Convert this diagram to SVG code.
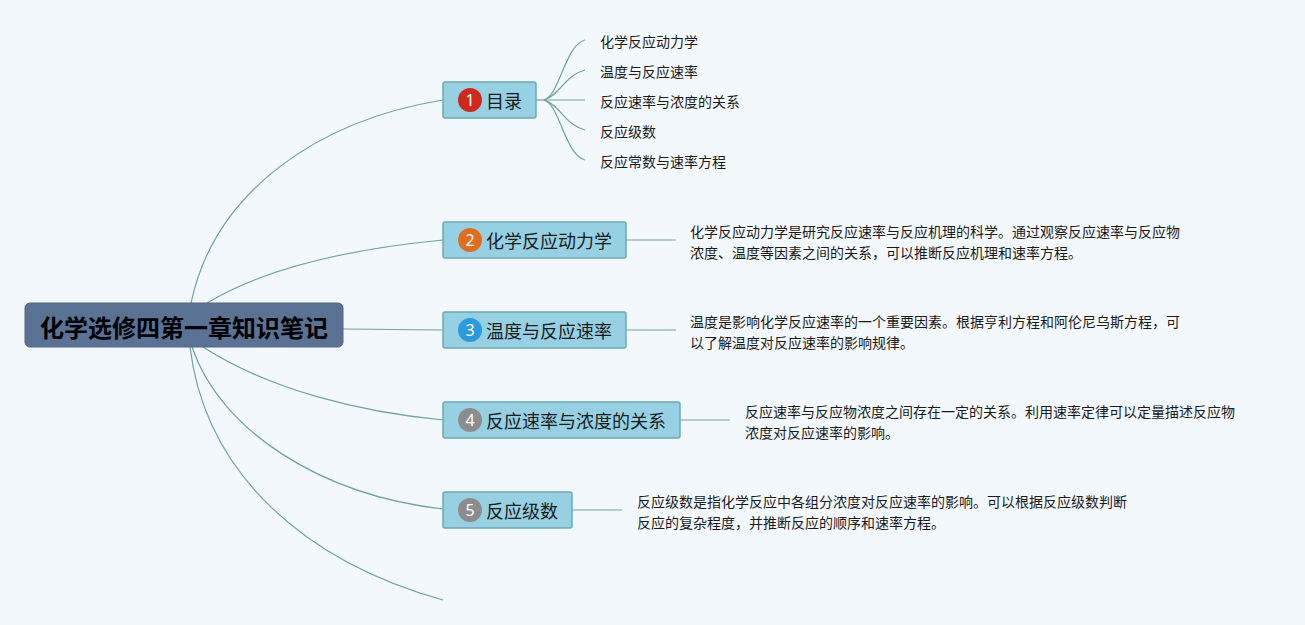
<svg xmlns="http://www.w3.org/2000/svg" width="1305" height="625" viewBox="0 0 1305 625">
<style>
.bg{fill:#f3f8fc}
.edge{fill:none;stroke:#6ea39b;stroke-width:1.2}
.box{fill:#95d1e3;stroke:#6aaab5;stroke-width:1.5}
.lbl{font-family:"Noto Sans CJK SC","Noto Sans",sans-serif;font-size:18px;fill:#1a1a1a;dominant-baseline:central}
.num{font-family:"Noto Sans","Liberation Sans",sans-serif;font-size:16px;fill:#ffffff;text-anchor:middle;dominant-baseline:central}
.txt{font-family:"Noto Sans CJK SC","Noto Sans",sans-serif;font-size:14px;fill:#1a1a1a;dominant-baseline:central}
.root{font-family:"Noto Sans CJK SC","Noto Sans",sans-serif;font-size:24px;font-weight:bold;fill:#000;text-anchor:middle;dominant-baseline:central}
</style>
<rect class="bg" x="0" y="0" width="1305" height="625"/>
<g id="connectors">
<path class="edge" d="M191,303 C215,190 320,120 443,100"/>
<path class="edge" d="M207,303 C270,265 360,248 443,240"/>
<path class="edge" d="M343,329 L443,330"/>
<path class="edge" d="M203,347 C270,390 360,412 443,420"/>
<path class="edge" d="M192,347 C220,430 320,495 443,509"/>
<path class="edge" d="M190,347 C205,470 300,560 443,600"/>
<path class="edge" d="M536,100 L544,100"/>
<path class="edge" d="M544,100 C560,95 565,45 585,40"/>
<path class="edge" d="M544,100 C560,95 565,75 585,70"/>
<path class="edge" d="M544,100 L585,100"/>
<path class="edge" d="M544,100 C560,105 565,125 585,130"/>
<path class="edge" d="M544,100 C560,105 565,155 585,160"/>
<path class="edge" d="M626,240 L676,240"/>
<path class="edge" d="M626,330 L676,330"/>
<path class="edge" d="M680,420 L730,420"/>
<path class="edge" d="M572,510 L622,510"/>
</g>
<g id="root">
<rect x="25" y="303" width="318" height="44" rx="5" fill="#5a7394" stroke="#4d6586" stroke-width="1"/>
<text class="root" x="184" y="326">化学选修四第一章知识笔记</text>
</g>
<g id="n1">
<rect class="box" x="443" y="82" width="93" height="36" rx="2"/>
<circle cx="470" cy="100" r="12" fill="#d0281c"/>
<text class="num" x="470" y="100">1</text>
<text class="lbl" x="486" y="100">目录</text>
</g>
<g id="n1c1"><text class="txt" x="600" y="41">化学反应动力学</text></g>
<g id="n1c2"><text class="txt" x="600" y="71">温度与反应速率</text></g>
<g id="n1c3"><text class="txt" x="600" y="101">反应速率与浓度的关系</text></g>
<g id="n1c4"><text class="txt" x="600" y="131">反应级数</text></g>
<g id="n1c5"><text class="txt" x="600" y="161">反应常数与速率方程</text></g>
<g id="n2">
<rect class="box" x="443" y="222" width="183" height="36" rx="2"/>
<circle cx="470" cy="240" r="12" fill="#e36d1e"/>
<text class="num" x="470" y="240">2</text>
<text class="lbl" x="486" y="240">化学反应动力学</text>
</g>
<g id="n2d">
<text class="txt" x="690" y="231">化学反应动力学是研究反应速率与反应机理的科学。通过观察反应速率与反应物</text>
<text class="txt" x="690" y="252">浓度、温度等因素之间的关系，可以推断反应机理和速率方程。</text>
</g>
<g id="n3">
<rect class="box" x="443" y="312" width="183" height="36" rx="2"/>
<circle cx="470" cy="330" r="12" fill="#2a9be0"/>
<text class="num" x="470" y="330">3</text>
<text class="lbl" x="486" y="330">温度与反应速率</text>
</g>
<g id="n3d">
<text class="txt" x="690" y="321">温度是影响化学反应速率的一个重要因素。根据亨利方程和阿伦尼乌斯方程，可</text>
<text class="txt" x="690" y="342">以了解温度对反应速率的影响规律。</text>
</g>
<g id="n4">
<rect class="box" x="443" y="402" width="237" height="36" rx="2"/>
<circle cx="470" cy="420" r="12" fill="#8c8c8c"/>
<text class="num" x="470" y="420">4</text>
<text class="lbl" x="486" y="420">反应速率与浓度的关系</text>
</g>
<g id="n4d">
<text class="txt" x="745" y="411">反应速率与反应物浓度之间存在一定的关系。利用速率定律可以定量描述反应物</text>
<text class="txt" x="745" y="432">浓度对反应速率的影响。</text>
</g>
<g id="n5">
<rect class="box" x="443" y="492" width="129" height="36" rx="2"/>
<circle cx="470" cy="510" r="12" fill="#8c8c8c"/>
<text class="num" x="470" y="510">5</text>
<text class="lbl" x="486" y="510">反应级数</text>
</g>
<g id="n5d">
<text class="txt" x="637" y="501">反应级数是指化学反应中各组分浓度对反应速率的影响。可以根据反应级数判断</text>
<text class="txt" x="637" y="522">反应的复杂程度，并推断反应的顺序和速率方程。</text>
</g>
</svg>
